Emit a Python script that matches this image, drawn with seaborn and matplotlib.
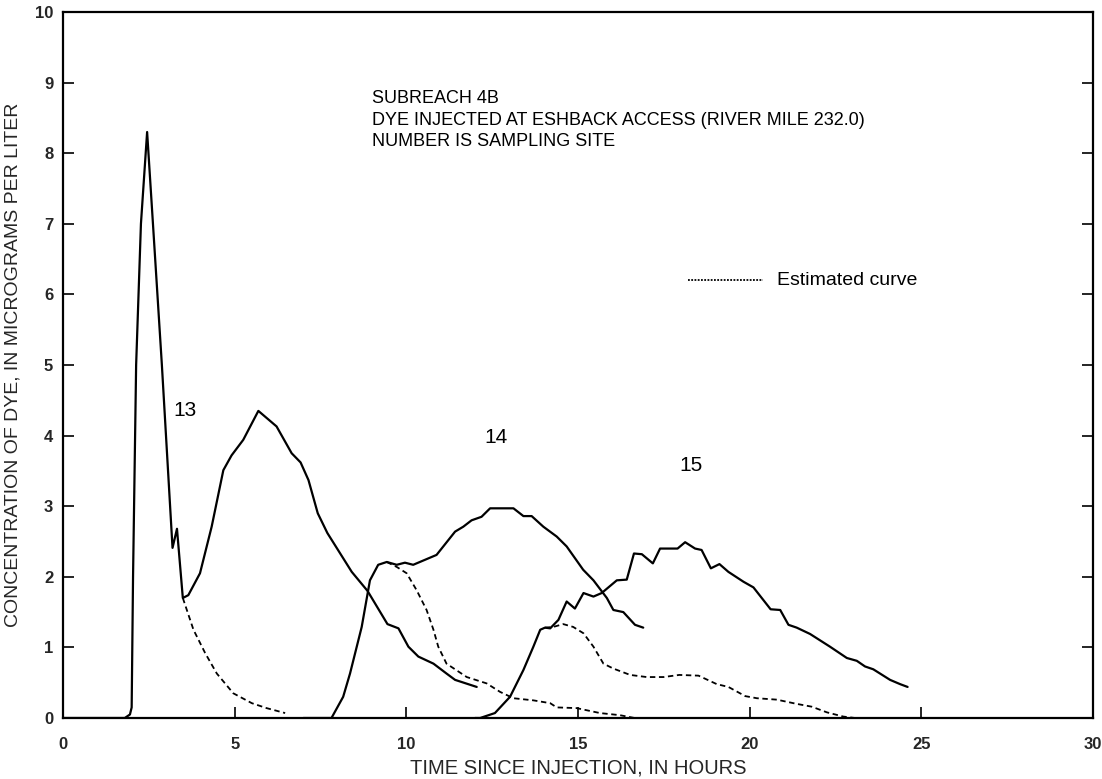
import matplotlib
matplotlib.use("Agg")
import matplotlib.pyplot as plt
import seaborn as sns
import pandas as pd

# ---- data ----
site13_x = [0.0, 1.8, 1.95, 2.0, 2.04, 2.13, 2.27, 2.45, 2.62, 2.88, 3.19, 3.32, 3.49, 3.65, 3.99,
            4.33, 4.67, 4.91, 5.25, 5.69, 6.22, 6.66, 6.92, 7.15, 7.42, 7.70, 8.41, 8.87,
            9.45, 9.77, 10.06, 10.35, 10.79, 11.17, 11.42, 12.05]
site13_y = [0.0, 0.0, 0.05, 0.15, 2.0, 5.0, 7.0, 8.3, 7.0, 5.0, 2.41, 2.68, 1.70, 1.74, 2.05,
            2.71, 3.51, 3.72, 3.94, 4.35, 4.13, 3.75, 3.62, 3.37, 2.90, 2.62, 2.07, 1.80,
            1.33, 1.27, 1.01, 0.87, 0.77, 0.63, 0.54, 0.44]
site13_est_x = [3.49, 3.8, 4.14, 4.48, 4.96, 5.5, 5.93, 6.47]
site13_est_y = [1.70, 1.25, 0.92, 0.63, 0.35, 0.21, 0.14, 0.07]

site14_x = [7.0, 7.82, 8.16, 8.36, 8.70, 8.94, 9.18, 9.43, 9.72, 9.96, 10.2, 10.54, 10.88,
            11.42, 11.66, 11.9, 12.19, 12.44, 13.12, 13.41, 13.65, 13.99, 14.38, 14.67,
            15.15, 15.45, 15.84, 16.03, 16.32, 16.66, 16.9]
site14_y = [0.0, 0.0, 0.30, 0.63, 1.29, 1.95, 2.17, 2.21, 2.17, 2.20, 2.17, 2.24, 2.31,
            2.64, 2.71, 2.80, 2.85, 2.97, 2.97, 2.86, 2.86, 2.71, 2.57, 2.43,
            2.10, 1.95, 1.70, 1.53, 1.50, 1.32, 1.28]
site14_est_x = [9.43, 9.72, 10.01, 10.3, 10.59, 10.79, 10.93, 11.17, 11.76, 12.34, 12.73,
                13.12, 13.7, 14.19, 14.38, 14.96, 15.64, 16.22, 16.65]
site14_est_y = [2.21, 2.14, 2.05, 1.81, 1.53, 1.25, 1.01, 0.77, 0.58, 0.49, 0.37,
                0.28, 0.25, 0.21, 0.15, 0.14, 0.07, 0.04, 0.0]

site15_x = [12.0, 12.15, 12.58, 13.02, 13.41, 13.7, 13.9, 14.04, 14.19, 14.43, 14.67, 14.91,
            15.16, 15.45, 15.69, 16.13, 16.42, 16.63, 16.86, 17.18, 17.39, 17.9, 18.12,
            18.41, 18.6, 18.87, 19.12, 19.38, 19.82, 20.11, 20.61, 20.89, 21.13, 21.37,
            21.76, 22.34, 22.83, 23.12, 23.36, 23.6, 24.09, 24.38, 24.6]
site15_y = [0.0, 0.0, 0.07, 0.30, 0.68, 1.01, 1.25, 1.28, 1.27, 1.39, 1.65, 1.55,
            1.77, 1.72, 1.77, 1.95, 1.96, 2.33, 2.32, 2.19, 2.40, 2.40, 2.49,
            2.40, 2.38, 2.12, 2.18, 2.07, 1.93, 1.85, 1.54, 1.53, 1.32, 1.28,
            1.19, 1.01, 0.85, 0.81, 0.73, 0.69, 0.54, 0.48, 0.44]
site15_est_x = [14.04, 14.28, 14.57, 14.86, 15.16, 15.45, 15.74, 16.03, 16.52, 17.0, 17.49,
                17.95, 18.51, 19.04, 19.38, 19.87, 20.21, 20.79, 21.37, 21.81, 22.25,
                22.73, 23.07]
site15_est_y = [1.28, 1.29, 1.33, 1.29, 1.20, 1.01, 0.77, 0.70, 0.61, 0.58, 0.58,
                0.61, 0.60, 0.48, 0.44, 0.31, 0.28, 0.26, 0.20, 0.16, 0.08,
                0.02, 0.0]

site_labels = ["13", "14", "15"]
label_pos_x = [3.55, 12.6, 18.3]
label_pos_y = [4.36, 3.97, 3.57]

note_lines = ["SUBREACH 4B",
              "DYE INJECTED AT ESHBACK ACCESS (RIVER MILE 232.0)",
              "NUMBER IS SAMPLING SITE"]
note_y = [8.78, 8.47, 8.17]
legend_label = "Estimated curve"
xlabel = "TIME SINCE INJECTION, IN HOURS"
ylabel = "CONCENTRATION OF DYE, IN MICROGRAMS PER LITER"
xticks = [0, 5, 10, 15, 20, 25, 30]
yticks = list(range(0, 11))

# ---- plotting ----
sns.set_theme(style="white")
plt.rcParams['font.family'] = ['Liberation Sans', 'DejaVu Sans']

fig = plt.figure(figsize=(11.02, 7.79), dpi=100)
ax = fig.add_axes([63 / 1102, 1 - 718 / 779, (1093 - 63) / 1102, (718 - 12) / 779])

solid = [(site13_x, site13_y), (site14_x, site14_y), (site15_x, site15_y)]
est = [(site13_est_x, site13_est_y), (site14_est_x, site14_est_y), (site15_est_x, site15_est_y)]

for xs, ys in solid:
    sns.lineplot(x=xs, y=ys, ax=ax, color="black", lw=1.6, sort=False, estimator=None)
for xs, ys in est:
    sns.lineplot(x=xs, y=ys, ax=ax, color="black", lw=1.3, sort=False, estimator=None,
                 linestyle=(0, (3.0, 2.0)))

ax.set_xlim(0, 30)
ax.set_ylim(0, 10)
ax.set_xticks(xticks)
ax.set_yticks(yticks)
ax.set_xticklabels([str(t) for t in xticks], fontsize=12, fontweight="bold")
ax.set_yticklabels([str(t) for t in yticks], fontsize=12, fontweight="bold")
ax.tick_params(axis="both", direction="in", length=8, width=1.2, color="black",
               bottom=True, left=True, right=True, top=False, pad=7)
ax.tick_params(axis="x", pad=14)
for s in ax.spines.values():
    s.set_color("black")
    s.set_linewidth(1.6)

ax.set_xlabel(xlabel, fontsize=14.5, labelpad=4)
ax.set_ylabel(ylabel, fontsize=14, labelpad=10)

for lab, lx, ly in zip(site_labels, label_pos_x, label_pos_y):
    ax.text(lx, ly, lab, fontsize=15, ha="center", va="center", color="black")

for line, ny in zip(note_lines, note_y):
    ax.text(9.0, ny, line, fontsize=13, ha="left", va="center", color="black")

# legend for estimated curve
sns.lineplot(x=[18.2, 20.4], y=[6.2, 6.2], ax=ax, color="black", lw=1.3,
             linestyle=(0, (1.0, 0.8)), estimator=None)
ax.text(20.8, 6.2, legend_label, fontsize=14, ha="left", va="center", color="black")

ax.grid(False)
fig.savefig("out.png", dpi=100)
